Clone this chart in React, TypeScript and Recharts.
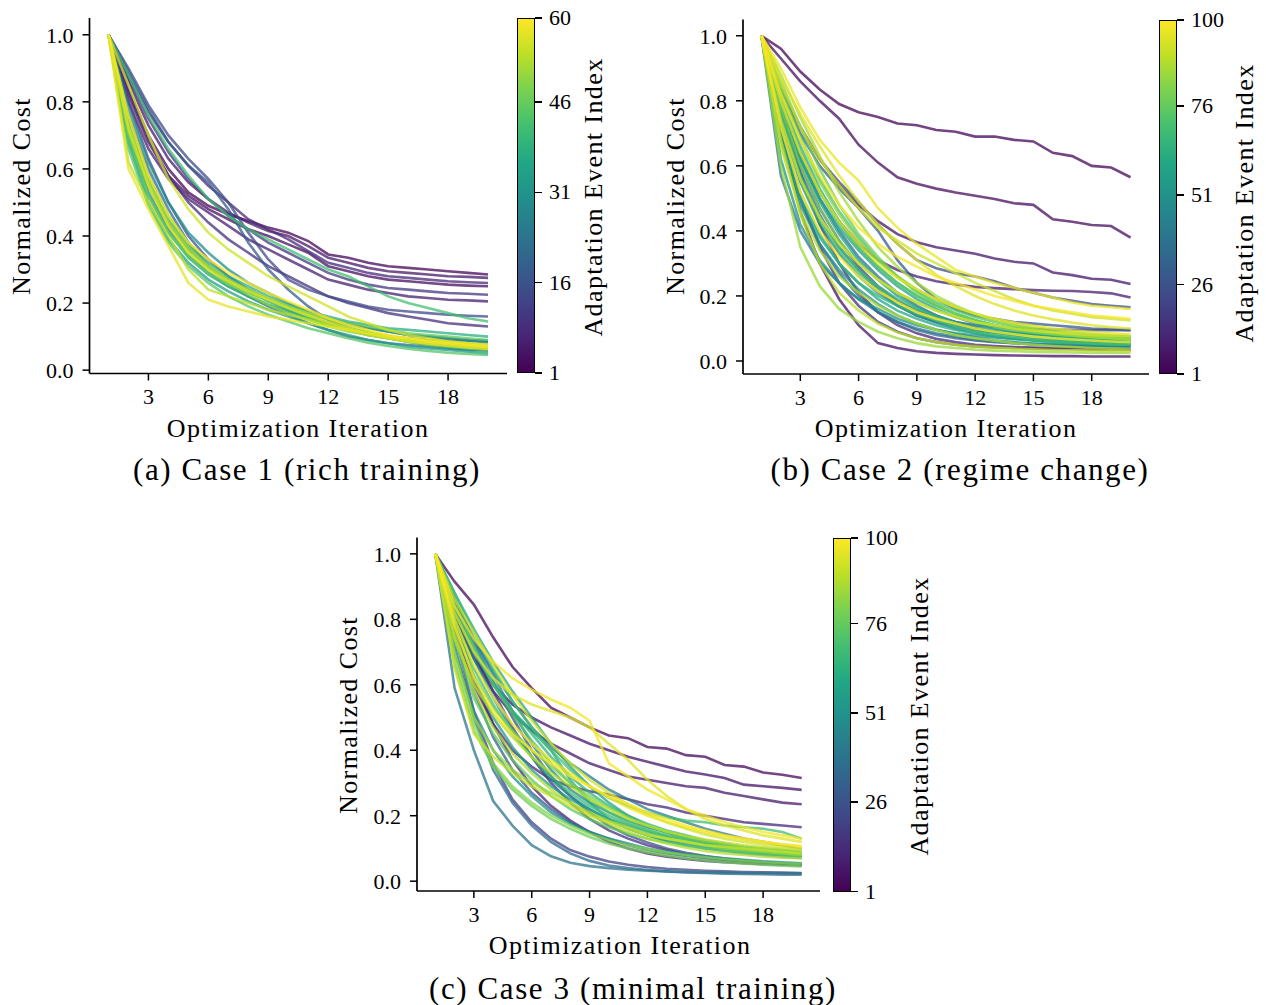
import { LineChart, Line, XAxis, YAxis } from 'recharts'

const FONT = '"Liberation Serif", "DejaVu Serif", serif'

const ITERATIONS = [1, 2, 3, 4, 5, 6, 7, 8, 9, 10, 11, 12, 13, 14, 15, 16, 17, 18, 19, 20]
const X_TICKS = [3, 6, 9, 12, 15, 18]
const Y_TICKS = [0, 0.2, 0.4, 0.6, 0.8, 1.0]

// Case 1 (rich training): 60 adaptation events, a readable subset of curves
const CASE1_EVENTS = [2, 3, 5, 6, 8, 9, 11, 14, 16, 18, 21, 24, 27, 30, 34, 36, 38, 40, 42, 44, 46, 48, 50, 52, 54, 56, 57, 58, 60]
const CASE1_COSTS = [
  [1.0, 0.84, 0.70, 0.60, 0.53, 0.49, 0.465, 0.445, 0.425, 0.41, 0.385, 0.345, 0.335, 0.32, 0.31, 0.305, 0.30, 0.295, 0.29, 0.285],
  [1.0, 0.82, 0.68, 0.58, 0.52, 0.48, 0.45, 0.42, 0.40, 0.375, 0.35, 0.31, 0.295, 0.28, 0.27, 0.265, 0.26, 0.255, 0.252, 0.25],
  [1.0, 0.86, 0.73, 0.63, 0.56, 0.51, 0.47, 0.44, 0.415, 0.40, 0.37, 0.335, 0.32, 0.305, 0.295, 0.29, 0.285, 0.28, 0.278, 0.275],
  [1.0, 0.80, 0.66, 0.57, 0.51, 0.47, 0.43, 0.39, 0.36, 0.33, 0.30, 0.27, 0.255, 0.24, 0.23, 0.22, 0.215, 0.21, 0.208, 0.205],
  [1.0, 0.88, 0.77, 0.68, 0.61, 0.55, 0.50, 0.45, 0.42, 0.39, 0.355, 0.32, 0.305, 0.29, 0.28, 0.275, 0.27, 0.265, 0.262, 0.26],
  [1.0, 0.83, 0.69, 0.58, 0.50, 0.44, 0.39, 0.35, 0.31, 0.28, 0.25, 0.22, 0.20, 0.185, 0.17, 0.16, 0.15, 0.14, 0.135, 0.13],
  [1.0, 0.87, 0.75, 0.65, 0.57, 0.51, 0.46, 0.42, 0.38, 0.35, 0.32, 0.29, 0.27, 0.255, 0.245, 0.24, 0.235, 0.23, 0.228, 0.225],
  [1.0, 0.90, 0.79, 0.70, 0.63, 0.57, 0.50, 0.41, 0.33, 0.27, 0.24, 0.22, 0.205, 0.19, 0.18, 0.175, 0.17, 0.165, 0.162, 0.16],
  [1.0, 0.80, 0.63, 0.50, 0.40, 0.33, 0.28, 0.24, 0.21, 0.185, 0.16, 0.14, 0.122, 0.108, 0.097, 0.088, 0.08, 0.074, 0.07, 0.066],
  [1.0, 0.89, 0.78, 0.68, 0.61, 0.56, 0.48, 0.38, 0.30, 0.24, 0.19, 0.15, 0.125, 0.11, 0.10, 0.095, 0.09, 0.088, 0.086, 0.085],
  [1.0, 0.76, 0.60, 0.48, 0.38, 0.31, 0.26, 0.22, 0.19, 0.165, 0.14, 0.12, 0.10, 0.09, 0.08, 0.075, 0.07, 0.065, 0.06, 0.06],
  [1.0, 0.72, 0.55, 0.44, 0.36, 0.31, 0.27, 0.24, 0.21, 0.19, 0.17, 0.15, 0.135, 0.125, 0.115, 0.105, 0.10, 0.095, 0.09, 0.088],
  [1.0, 0.70, 0.53, 0.42, 0.34, 0.29, 0.25, 0.22, 0.195, 0.175, 0.155, 0.135, 0.12, 0.105, 0.095, 0.085, 0.075, 0.068, 0.062, 0.058],
  [1.0, 0.78, 0.62, 0.50, 0.41, 0.35, 0.30, 0.26, 0.23, 0.20, 0.175, 0.155, 0.14, 0.125, 0.115, 0.105, 0.10, 0.095, 0.09, 0.085],
  [1.0, 0.68, 0.50, 0.39, 0.32, 0.27, 0.235, 0.205, 0.18, 0.16, 0.14, 0.12, 0.105, 0.09, 0.08, 0.07, 0.065, 0.06, 0.055, 0.05],
  [1.0, 0.72, 0.56, 0.45, 0.37, 0.31, 0.27, 0.235, 0.205, 0.18, 0.16, 0.14, 0.125, 0.112, 0.10, 0.092, 0.085, 0.08, 0.076, 0.073],
  [1.0, 0.75, 0.58, 0.46, 0.38, 0.32, 0.28, 0.25, 0.22, 0.195, 0.175, 0.16, 0.145, 0.135, 0.125, 0.12, 0.115, 0.11, 0.105, 0.10],
  [1.0, 0.69, 0.52, 0.41, 0.335, 0.285, 0.25, 0.22, 0.195, 0.175, 0.155, 0.138, 0.124, 0.112, 0.102, 0.094, 0.088, 0.083, 0.079, 0.076],
  [1.0, 0.88, 0.76, 0.66, 0.58, 0.51, 0.46, 0.42, 0.39, 0.36, 0.33, 0.30, 0.28, 0.25, 0.22, 0.20, 0.185, 0.17, 0.155, 0.145],
  [1.0, 0.66, 0.49, 0.38, 0.31, 0.26, 0.22, 0.19, 0.165, 0.145, 0.125, 0.11, 0.095, 0.082, 0.072, 0.064, 0.057, 0.052, 0.048, 0.045],
  [1.0, 0.70, 0.52, 0.41, 0.34, 0.29, 0.255, 0.23, 0.21, 0.19, 0.17, 0.155, 0.14, 0.13, 0.12, 0.11, 0.105, 0.10, 0.095, 0.09],
  [1.0, 0.73, 0.57, 0.45, 0.37, 0.31, 0.27, 0.24, 0.21, 0.185, 0.16, 0.14, 0.12, 0.105, 0.095, 0.085, 0.075, 0.07, 0.065, 0.06],
  [1.0, 0.71, 0.55, 0.43, 0.35, 0.30, 0.26, 0.225, 0.195, 0.17, 0.15, 0.13, 0.115, 0.105, 0.095, 0.088, 0.082, 0.078, 0.075, 0.072],
  [1.0, 0.74, 0.56, 0.44, 0.36, 0.31, 0.27, 0.24, 0.215, 0.19, 0.17, 0.15, 0.13, 0.115, 0.10, 0.09, 0.085, 0.08, 0.075, 0.07],
  [1.0, 0.62, 0.50, 0.40, 0.30, 0.24, 0.22, 0.20, 0.18, 0.165, 0.15, 0.135, 0.12, 0.105, 0.095, 0.085, 0.08, 0.075, 0.07, 0.065],
  [1.0, 0.85, 0.70, 0.57, 0.48, 0.41, 0.36, 0.32, 0.28, 0.25, 0.22, 0.19, 0.16, 0.14, 0.12, 0.105, 0.095, 0.085, 0.08, 0.075],
  [1.0, 0.72, 0.55, 0.43, 0.35, 0.30, 0.265, 0.235, 0.21, 0.185, 0.163, 0.143, 0.125, 0.11, 0.097, 0.087, 0.079, 0.073, 0.068, 0.064],
  [1.0, 0.60, 0.48, 0.37, 0.26, 0.21, 0.19, 0.175, 0.16, 0.15, 0.14, 0.13, 0.12, 0.11, 0.10, 0.095, 0.09, 0.085, 0.08, 0.075],
  [1.0, 0.76, 0.58, 0.46, 0.38, 0.33, 0.29, 0.26, 0.23, 0.205, 0.18, 0.155, 0.135, 0.12, 0.105, 0.095, 0.085, 0.08, 0.075, 0.07],
]
const CASE1_CBAR_TICKS = [1, 16, 31, 46, 60]

// Case 2 (regime change): 100 adaptation events
const CASE2_EVENTS = [2, 4, 5, 7, 9, 12, 15, 20, 25, 29, 33, 35, 38, 40, 45, 48, 50, 55, 58, 60, 62, 65, 68, 70, 72, 75, 78, 80, 82, 85, 86, 88, 90, 92, 94, 95, 96, 97, 99, 100]
const CASE2_COSTS = [
  [1.0, 0.96, 0.89, 0.835, 0.79, 0.765, 0.75, 0.73, 0.725, 0.71, 0.705, 0.69, 0.69, 0.68, 0.675, 0.64, 0.63, 0.60, 0.595, 0.565],
  [1.0, 0.93, 0.86, 0.80, 0.745, 0.665, 0.61, 0.565, 0.545, 0.53, 0.518, 0.508, 0.498, 0.485, 0.48, 0.436, 0.428, 0.418, 0.415, 0.379],
  [1.0, 0.70, 0.46, 0.30, 0.19, 0.11, 0.055, 0.04, 0.03, 0.025, 0.022, 0.02, 0.018, 0.017, 0.016, 0.015, 0.015, 0.014, 0.014, 0.014],
  [1.0, 0.84, 0.72, 0.62, 0.54, 0.48, 0.43, 0.39, 0.365, 0.35, 0.34, 0.33, 0.315, 0.305, 0.30, 0.272, 0.264, 0.253, 0.25, 0.237],
  [1.0, 0.80, 0.64, 0.52, 0.43, 0.36, 0.31, 0.28, 0.26, 0.245, 0.235, 0.228, 0.224, 0.221, 0.218, 0.216, 0.215, 0.212, 0.208, 0.195],
  [1.0, 0.78, 0.58, 0.42, 0.30, 0.21, 0.15, 0.11, 0.085, 0.068, 0.058, 0.05, 0.046, 0.043, 0.041, 0.04, 0.039, 0.038, 0.037, 0.036],
  [1.0, 0.72, 0.50, 0.35, 0.24, 0.17, 0.12, 0.09, 0.07, 0.058, 0.05, 0.045, 0.042, 0.04, 0.038, 0.037, 0.036, 0.035, 0.035, 0.035],
  [1.0, 0.78, 0.60, 0.47, 0.37, 0.29, 0.23, 0.185, 0.155, 0.135, 0.12, 0.11, 0.105, 0.10, 0.098, 0.097, 0.096, 0.095, 0.095, 0.095],
  [1.0, 0.84, 0.72, 0.62, 0.55, 0.49, 0.42, 0.36, 0.31, 0.285, 0.27, 0.26, 0.245, 0.225, 0.21, 0.195, 0.185, 0.175, 0.17, 0.165],
  [1.0, 0.82, 0.70, 0.60, 0.53, 0.47, 0.40, 0.31, 0.24, 0.19, 0.16, 0.14, 0.13, 0.12, 0.115, 0.11, 0.105, 0.10, 0.098, 0.095],
  [1.0, 0.70, 0.50, 0.36, 0.27, 0.20, 0.15, 0.12, 0.095, 0.08, 0.07, 0.063, 0.058, 0.055, 0.052, 0.05, 0.049, 0.048, 0.047, 0.046],
  [1.0, 0.76, 0.58, 0.45, 0.35, 0.28, 0.22, 0.17, 0.14, 0.12, 0.105, 0.095, 0.088, 0.084, 0.082, 0.08, 0.079, 0.078, 0.077, 0.076],
  [1.0, 0.80, 0.63, 0.50, 0.40, 0.32, 0.26, 0.21, 0.17, 0.14, 0.118, 0.10, 0.088, 0.079, 0.072, 0.067, 0.063, 0.06, 0.058, 0.056],
  [1.0, 0.57, 0.40, 0.30, 0.24, 0.19, 0.15, 0.12, 0.10, 0.085, 0.075, 0.065, 0.06, 0.055, 0.05, 0.048, 0.046, 0.045, 0.044, 0.043],
  [1.0, 0.74, 0.55, 0.42, 0.33, 0.26, 0.21, 0.17, 0.14, 0.118, 0.10, 0.088, 0.078, 0.07, 0.064, 0.06, 0.057, 0.055, 0.053, 0.052],
  [1.0, 0.68, 0.48, 0.36, 0.28, 0.22, 0.175, 0.14, 0.115, 0.097, 0.083, 0.072, 0.064, 0.058, 0.054, 0.051, 0.049, 0.047, 0.046, 0.045],
  [1.0, 0.62, 0.42, 0.31, 0.24, 0.19, 0.16, 0.13, 0.11, 0.095, 0.085, 0.078, 0.072, 0.068, 0.065, 0.062, 0.06, 0.058, 0.057, 0.056],
  [1.0, 0.80, 0.62, 0.49, 0.39, 0.31, 0.25, 0.20, 0.165, 0.14, 0.12, 0.105, 0.095, 0.088, 0.082, 0.078, 0.075, 0.072, 0.07, 0.068],
  [1.0, 0.78, 0.62, 0.50, 0.41, 0.34, 0.28, 0.23, 0.19, 0.16, 0.135, 0.115, 0.10, 0.09, 0.082, 0.076, 0.071, 0.067, 0.064, 0.062],
  [1.0, 0.70, 0.50, 0.38, 0.30, 0.24, 0.19, 0.155, 0.13, 0.11, 0.095, 0.085, 0.075, 0.068, 0.062, 0.058, 0.055, 0.052, 0.05, 0.05],
  [1.0, 0.82, 0.66, 0.53, 0.43, 0.35, 0.29, 0.24, 0.20, 0.17, 0.145, 0.125, 0.11, 0.098, 0.088, 0.08, 0.074, 0.07, 0.066, 0.063],
  [1.0, 0.72, 0.52, 0.39, 0.30, 0.24, 0.20, 0.17, 0.145, 0.125, 0.11, 0.10, 0.09, 0.082, 0.075, 0.07, 0.066, 0.063, 0.06, 0.058],
  [1.0, 0.76, 0.57, 0.44, 0.35, 0.28, 0.23, 0.19, 0.16, 0.135, 0.115, 0.10, 0.088, 0.079, 0.072, 0.066, 0.062, 0.058, 0.055, 0.053],
  [1.0, 0.75, 0.56, 0.43, 0.34, 0.27, 0.22, 0.18, 0.15, 0.125, 0.105, 0.09, 0.08, 0.072, 0.065, 0.06, 0.057, 0.054, 0.052, 0.05],
  [1.0, 0.84, 0.69, 0.56, 0.46, 0.38, 0.31, 0.26, 0.215, 0.18, 0.155, 0.135, 0.12, 0.107, 0.097, 0.089, 0.083, 0.078, 0.074, 0.071],
  [1.0, 0.80, 0.64, 0.52, 0.42, 0.35, 0.29, 0.24, 0.20, 0.17, 0.145, 0.125, 0.11, 0.10, 0.09, 0.083, 0.078, 0.074, 0.07, 0.068],
  [1.0, 0.86, 0.72, 0.59, 0.48, 0.39, 0.32, 0.26, 0.21, 0.175, 0.145, 0.125, 0.11, 0.098, 0.089, 0.082, 0.077, 0.073, 0.07, 0.067],
  [1.0, 0.78, 0.60, 0.47, 0.37, 0.30, 0.25, 0.21, 0.18, 0.155, 0.135, 0.12, 0.105, 0.095, 0.088, 0.082, 0.078, 0.075, 0.072, 0.07],
  [1.0, 0.83, 0.68, 0.55, 0.45, 0.37, 0.31, 0.26, 0.22, 0.19, 0.165, 0.145, 0.128, 0.115, 0.104, 0.095, 0.088, 0.083, 0.079, 0.076],
  [1.0, 0.60, 0.35, 0.23, 0.16, 0.12, 0.09, 0.07, 0.055, 0.045, 0.04, 0.035, 0.032, 0.03, 0.028, 0.027, 0.026, 0.025, 0.025, 0.025],
  [1.0, 0.88, 0.75, 0.63, 0.52, 0.43, 0.35, 0.29, 0.24, 0.20, 0.17, 0.145, 0.125, 0.11, 0.098, 0.088, 0.08, 0.074, 0.07, 0.066],
  [1.0, 0.66, 0.46, 0.34, 0.26, 0.21, 0.17, 0.14, 0.115, 0.095, 0.08, 0.07, 0.062, 0.055, 0.05, 0.046, 0.043, 0.04, 0.038, 0.037],
  [1.0, 0.68, 0.45, 0.30, 0.21, 0.155, 0.115, 0.088, 0.07, 0.058, 0.05, 0.045, 0.041, 0.038, 0.036, 0.034, 0.033, 0.032, 0.031, 0.03],
  [1.0, 0.85, 0.72, 0.62, 0.54, 0.47, 0.41, 0.37, 0.33, 0.30, 0.27, 0.24, 0.215, 0.19, 0.17, 0.155, 0.145, 0.135, 0.13, 0.125],
  [1.0, 0.74, 0.56, 0.44, 0.36, 0.30, 0.25, 0.21, 0.18, 0.155, 0.135, 0.12, 0.11, 0.10, 0.093, 0.088, 0.084, 0.08, 0.078, 0.076],
  [1.0, 0.87, 0.76, 0.66, 0.57, 0.49, 0.42, 0.36, 0.31, 0.265, 0.23, 0.20, 0.175, 0.155, 0.14, 0.128, 0.118, 0.11, 0.104, 0.10],
  [1.0, 0.80, 0.64, 0.52, 0.43, 0.36, 0.30, 0.255, 0.22, 0.19, 0.165, 0.145, 0.13, 0.118, 0.108, 0.10, 0.094, 0.089, 0.085, 0.082],
  [1.0, 0.90, 0.78, 0.68, 0.61, 0.555, 0.47, 0.41, 0.36, 0.32, 0.28, 0.26, 0.24, 0.225, 0.21, 0.195, 0.18, 0.17, 0.165, 0.16],
  [1.0, 0.82, 0.68, 0.57, 0.48, 0.41, 0.36, 0.32, 0.29, 0.26, 0.24, 0.22, 0.20, 0.185, 0.17, 0.16, 0.15, 0.14, 0.135, 0.13],
  [1.0, 0.72, 0.52, 0.40, 0.32, 0.26, 0.215, 0.18, 0.15, 0.13, 0.115, 0.10, 0.09, 0.082, 0.075, 0.07, 0.066, 0.063, 0.06, 0.058],
]
const CASE2_CBAR_TICKS = [1, 26, 51, 76, 100]

// Case 3 (minimal training): 100 adaptation events
const CASE3_EVENTS = [3, 6, 8, 10, 12, 15, 20, 25, 30, 35, 40, 42, 45, 48, 50, 55, 58, 60, 65, 68, 70, 72, 75, 78, 80, 82, 85, 88, 90, 92, 93, 95, 97, 98, 100]
const CASE3_COSTS = [
  [1.0, 0.915, 0.845, 0.745, 0.655, 0.59, 0.53, 0.50, 0.47, 0.445, 0.437, 0.41, 0.405, 0.385, 0.38, 0.355, 0.35, 0.332, 0.325, 0.315],
  [1.0, 0.80, 0.68, 0.60, 0.54, 0.50, 0.47, 0.445, 0.42, 0.40, 0.38, 0.365, 0.35, 0.335, 0.326, 0.315, 0.295, 0.29, 0.285, 0.279],
  [1.0, 0.82, 0.68, 0.58, 0.51, 0.46, 0.42, 0.39, 0.36, 0.34, 0.32, 0.31, 0.30, 0.29, 0.285, 0.27, 0.26, 0.25, 0.24, 0.235],
  [1.0, 0.80, 0.62, 0.48, 0.37, 0.29, 0.23, 0.185, 0.15, 0.12, 0.10, 0.085, 0.075, 0.068, 0.062, 0.058, 0.055, 0.052, 0.05, 0.048],
  [1.0, 0.78, 0.60, 0.48, 0.40, 0.35, 0.31, 0.29, 0.275, 0.265, 0.25, 0.235, 0.225, 0.21, 0.20, 0.19, 0.18, 0.175, 0.17, 0.165],
  [1.0, 0.84, 0.70, 0.58, 0.47, 0.38, 0.30, 0.24, 0.19, 0.155, 0.13, 0.11, 0.095, 0.083, 0.074, 0.067, 0.062, 0.058, 0.055, 0.052],
  [1.0, 0.76, 0.52, 0.36, 0.25, 0.18, 0.13, 0.095, 0.075, 0.06, 0.05, 0.043, 0.038, 0.035, 0.032, 0.03, 0.028, 0.027, 0.026, 0.025],
  [1.0, 0.86, 0.73, 0.61, 0.50, 0.40, 0.32, 0.26, 0.21, 0.17, 0.14, 0.118, 0.10, 0.087, 0.077, 0.069, 0.063, 0.058, 0.054, 0.05],
  [1.0, 0.78, 0.58, 0.44, 0.34, 0.27, 0.22, 0.18, 0.15, 0.13, 0.11, 0.095, 0.085, 0.077, 0.07, 0.065, 0.06, 0.056, 0.053, 0.05],
  [1.0, 0.72, 0.50, 0.34, 0.24, 0.17, 0.12, 0.085, 0.062, 0.048, 0.04, 0.034, 0.03, 0.027, 0.025, 0.023, 0.022, 0.021, 0.02, 0.02],
  [1.0, 0.59, 0.40, 0.245, 0.17, 0.11, 0.076, 0.056, 0.046, 0.04, 0.035, 0.032, 0.03, 0.028, 0.027, 0.026, 0.025, 0.025, 0.024, 0.024],
  [1.0, 0.86, 0.74, 0.64, 0.55, 0.47, 0.41, 0.36, 0.32, 0.28, 0.25, 0.22, 0.20, 0.18, 0.16, 0.145, 0.13, 0.12, 0.11, 0.10],
  [1.0, 0.86, 0.74, 0.63, 0.52, 0.42, 0.34, 0.28, 0.24, 0.21, 0.185, 0.165, 0.15, 0.135, 0.122, 0.11, 0.10, 0.092, 0.085, 0.078],
  [1.0, 0.82, 0.68, 0.56, 0.46, 0.38, 0.31, 0.26, 0.22, 0.185, 0.16, 0.14, 0.123, 0.11, 0.10, 0.092, 0.085, 0.08, 0.075, 0.071],
  [1.0, 0.70, 0.52, 0.40, 0.32, 0.26, 0.21, 0.175, 0.15, 0.13, 0.115, 0.10, 0.09, 0.082, 0.075, 0.07, 0.065, 0.061, 0.058, 0.055],
  [1.0, 0.80, 0.62, 0.50, 0.41, 0.34, 0.29, 0.25, 0.22, 0.19, 0.17, 0.15, 0.135, 0.12, 0.11, 0.10, 0.092, 0.085, 0.08, 0.075],
  [1.0, 0.88, 0.77, 0.67, 0.58, 0.50, 0.42, 0.35, 0.29, 0.24, 0.20, 0.17, 0.148, 0.13, 0.116, 0.105, 0.096, 0.089, 0.083, 0.078],
  [1.0, 0.83, 0.70, 0.60, 0.52, 0.46, 0.40, 0.31, 0.24, 0.19, 0.16, 0.14, 0.125, 0.115, 0.105, 0.098, 0.092, 0.087, 0.083, 0.08],
  [1.0, 0.85, 0.72, 0.61, 0.52, 0.45, 0.38, 0.32, 0.27, 0.23, 0.20, 0.175, 0.155, 0.14, 0.125, 0.115, 0.105, 0.10, 0.095, 0.09],
  [1.0, 0.80, 0.65, 0.54, 0.45, 0.38, 0.32, 0.27, 0.23, 0.20, 0.175, 0.155, 0.138, 0.124, 0.113, 0.104, 0.097, 0.091, 0.086, 0.082],
  [1.0, 0.88, 0.76, 0.65, 0.55, 0.47, 0.40, 0.34, 0.29, 0.255, 0.23, 0.21, 0.195, 0.185, 0.18, 0.17, 0.165, 0.16, 0.15, 0.13],
  [1.0, 0.84, 0.71, 0.60, 0.51, 0.43, 0.36, 0.30, 0.25, 0.21, 0.18, 0.158, 0.14, 0.126, 0.114, 0.105, 0.098, 0.092, 0.087, 0.083],
  [1.0, 0.74, 0.56, 0.45, 0.37, 0.31, 0.26, 0.22, 0.19, 0.165, 0.145, 0.13, 0.118, 0.108, 0.10, 0.094, 0.088, 0.084, 0.08, 0.077],
  [1.0, 0.66, 0.46, 0.35, 0.28, 0.23, 0.19, 0.16, 0.135, 0.115, 0.10, 0.088, 0.078, 0.07, 0.063, 0.058, 0.054, 0.05, 0.047, 0.045],
  [1.0, 0.78, 0.63, 0.53, 0.46, 0.40, 0.35, 0.30, 0.26, 0.225, 0.195, 0.17, 0.15, 0.135, 0.122, 0.112, 0.104, 0.097, 0.092, 0.088],
  [1.0, 0.68, 0.48, 0.36, 0.29, 0.24, 0.20, 0.17, 0.145, 0.125, 0.11, 0.098, 0.088, 0.08, 0.073, 0.067, 0.062, 0.058, 0.055, 0.052],
  [1.0, 0.70, 0.50, 0.40, 0.34, 0.30, 0.27, 0.24, 0.21, 0.185, 0.165, 0.145, 0.13, 0.12, 0.11, 0.10, 0.095, 0.09, 0.085, 0.08],
  [1.0, 0.76, 0.58, 0.47, 0.39, 0.33, 0.28, 0.24, 0.205, 0.175, 0.15, 0.13, 0.115, 0.102, 0.092, 0.085, 0.08, 0.075, 0.072, 0.07],
  [1.0, 0.74, 0.60, 0.51, 0.44, 0.38, 0.33, 0.29, 0.25, 0.22, 0.19, 0.17, 0.152, 0.138, 0.127, 0.118, 0.11, 0.104, 0.099, 0.095],
  [1.0, 0.65, 0.45, 0.38, 0.33, 0.29, 0.26, 0.23, 0.20, 0.18, 0.16, 0.14, 0.13, 0.12, 0.11, 0.105, 0.10, 0.095, 0.09, 0.085],
  [1.0, 0.86, 0.76, 0.66, 0.57, 0.49, 0.42, 0.36, 0.31, 0.27, 0.235, 0.205, 0.18, 0.16, 0.143, 0.13, 0.12, 0.112, 0.105, 0.10],
  [1.0, 0.82, 0.70, 0.62, 0.57, 0.54, 0.52, 0.50, 0.47, 0.42, 0.37, 0.31, 0.26, 0.22, 0.19, 0.17, 0.155, 0.14, 0.13, 0.12],
  [1.0, 0.80, 0.66, 0.56, 0.48, 0.42, 0.37, 0.33, 0.29, 0.255, 0.225, 0.20, 0.18, 0.163, 0.15, 0.138, 0.128, 0.12, 0.113, 0.107],
  [1.0, 0.84, 0.74, 0.67, 0.62, 0.585, 0.555, 0.53, 0.49, 0.36, 0.32, 0.28, 0.25, 0.22, 0.20, 0.18, 0.165, 0.15, 0.14, 0.13],
  [1.0, 0.78, 0.62, 0.52, 0.45, 0.40, 0.36, 0.32, 0.29, 0.26, 0.235, 0.21, 0.19, 0.17, 0.155, 0.14, 0.13, 0.12, 0.112, 0.105],
]
const CASE3_CBAR_TICKS = [1, 26, 51, 76, 100]

const VIRIDIS = ['#440154', '#482475', '#414487', '#355f8d', '#2a788e', '#21918c', '#22a884', '#44bf70', '#7ad151', '#bddf26', '#fde725']

function viridis(t: number) {
  const x = Math.min(1, Math.max(0, t)) * (VIRIDIS.length - 1)
  const i = Math.min(VIRIDIS.length - 2, Math.floor(x))
  const f = x - i
  const a = VIRIDIS[i]
  const b = VIRIDIS[i + 1]
  const ch = (h: string, k: number) => parseInt(h.slice(1 + 2 * k, 3 + 2 * k), 16)
  const mix = (k: number) => Math.round(ch(a, k) + (ch(b, k) - ch(a, k)) * f)
  return `rgb(${mix(0)}, ${mix(1)}, ${mix(2)})`
}

interface TextAtProps {
  x: number
  y: number
  size: number
  spacing?: number
  rotate?: boolean
  children: string
}

function TextAt({ x, y, size, spacing = 0, rotate = false, children }: TextAtProps) {
  return (
    <div
      style={{
        position: 'absolute',
        left: x,
        top: y,
        transform: `translate(-50%, -50%)${rotate ? ' rotate(-90deg)' : ''}`,
        fontFamily: FONT,
        fontSize: size,
        letterSpacing: spacing,
        whiteSpace: 'nowrap',
        color: '#000',
        lineHeight: 1,
      }}
    >
      {children}
    </div>
  )
}

interface ColorbarProps {
  left: number
  top: number
  height: number
  ticks: number[]
  maxEvent: number
}

function Colorbar({ left, top, height, ticks, maxEvent }: ColorbarProps) {
  const grad = VIRIDIS.map((c, i) => `${c} ${(i / (VIRIDIS.length - 1)) * 100}%`).join(', ')
  const w = 18
  return (
    <div style={{ position: 'absolute', left, top, width: w, height }}>
      <div
        style={{
          position: 'absolute',
          inset: 0,
          background: `linear-gradient(to top, ${grad})`,
          border: '1.3px solid #000',
          boxSizing: 'border-box',
        }}
      />
      {ticks.map((t) => {
        const y = height - ((t - 1) / (maxEvent - 1)) * height
        return (
          <div key={t}>
            <div style={{ position: 'absolute', left: w, top: y - 0.75, width: 7, height: 1.5, background: '#000' }} />
            <div
              style={{
                position: 'absolute',
                left: w + 14,
                top: y,
                transform: 'translateY(-50%)',
                fontFamily: FONT,
                fontSize: 22,
                lineHeight: 1,
              }}
            >
              {t}
            </div>
          </div>
        )
      })}
    </div>
  )
}

interface PanelProps {
  events: number[]
  costs: number[][]
  maxEvent: number
  yDomain: [number, number]
  left: number
  top: number
  width: number
  height: number
  plotTop: number
  plotBottom: number
  plotLeft: number
  plotRight: number
}

function CostPanel({ events, costs, maxEvent, yDomain, left, top, width, height, plotTop, plotBottom, plotLeft, plotRight }: PanelProps) {
  const rows = ITERATIONS.map((iteration, i) => {
    const row: Record<string, number> = { iteration }
    costs.forEach((c, j) => {
      row[`e${events[j]}`] = c[i]
    })
    return row
  })
  const tickStyle = { fill: '#000', fontSize: 22, fontFamily: FONT }
  const axisLine = { stroke: '#000', strokeWidth: 1.7 }
  const tickLine = { stroke: '#000', strokeWidth: 1.5 }
  return (
    <div style={{ position: 'absolute', left, top, width, height }}>
      <LineChart
        width={width}
        height={height}
        data={rows}
        margin={{ top: plotTop, right: width - plotRight, bottom: 0, left: 0 }}
      >
        <XAxis
          type="number"
          dataKey="iteration"
          domain={[0.05, 20.95]}
          ticks={X_TICKS}
          interval={0}
          allowDataOverflow
          height={height - plotBottom}
          tickSize={7}
          tickMargin={8}
          axisLine={axisLine}
          tickLine={tickLine}
          tick={tickStyle}
        />
        <YAxis
          type="number"
          domain={yDomain}
          ticks={Y_TICKS}
          interval={0}
          allowDataOverflow
          width={plotLeft}
          tickSize={7}
          tickMargin={9}
          tickFormatter={(v: number) => v.toFixed(1)}
          axisLine={axisLine}
          tickLine={tickLine}
          tick={tickStyle}
        />
        {events.map((ev) => (
          <Line
            key={ev}
            type="linear"
            dataKey={`e${ev}`}
            stroke={viridis((ev - 1) / (maxEvent - 1))}
            strokeOpacity={0.75}
            strokeWidth={2.6}
            dot={false}
            activeDot={false}
            isAnimationActive={false}
          />
        ))}
      </LineChart>
    </div>
  )
}

export default function App() {
  return (
    <div style={{ position: 'absolute', left: 0, top: 0, width: 1266, height: 1005, background: '#fff' }}>
      <CostPanel
        events={CASE1_EVENTS}
        costs={CASE1_COSTS}
        maxEvent={60}
        yDomain={[-0.01, 1.05]}
        left={0}
        top={0}
        width={520}
        height={440}
        plotTop={18}
        plotBottom={373.5}
        plotLeft={89.5}
        plotRight={507}
      />
      <Colorbar left={517} top={18} height={355} ticks={CASE1_CBAR_TICKS} maxEvent={60} />
      <TextAt x={22} y={196} size={26} spacing={1.4} rotate>Normalized Cost</TextAt>
      <TextAt x={298} y={429} size={26} spacing={1.4}>Optimization Iteration</TextAt>
      <TextAt x={594} y={197} size={26} spacing={1.4} rotate>Adaptation Event Index</TextAt>
      <TextAt x={307} y={469} size={31} spacing={1.6}>(a) Case 1 (rich training)</TextAt>

      <CostPanel
        events={CASE2_EVENTS}
        costs={CASE2_COSTS}
        maxEvent={100}
        yDomain={[-0.04, 1.05]}
        left={650}
        top={0}
        width={510}
        height={440}
        plotTop={19.5}
        plotBottom={374}
        plotLeft={93}
        plotRight={499}
      />
      <Colorbar left={1159} top={20} height={354} ticks={CASE2_CBAR_TICKS} maxEvent={100} />
      <TextAt x={676} y={196} size={26} spacing={1.4} rotate>Normalized Cost</TextAt>
      <TextAt x={946} y={429} size={26} spacing={1.4}>Optimization Iteration</TextAt>
      <TextAt x={1245} y={203} size={26} spacing={1.4} rotate>Adaptation Event Index</TextAt>
      <TextAt x={960} y={469} size={31} spacing={1.6}>(b) Case 2 (regime change)</TextAt>

      <CostPanel
        events={CASE3_EVENTS}
        costs={CASE3_COSTS}
        maxEvent={100}
        yDomain={[-0.03, 1.05]}
        left={325}
        top={500}
        width={510}
        height={440}
        plotTop={37.5}
        plotBottom={391}
        plotLeft={92}
        plotRight={495}
      />
      <Colorbar left={833} top={538} height={353.5} ticks={CASE3_CBAR_TICKS} maxEvent={100} />
      <TextAt x={349} y={715} size={26} spacing={1.4} rotate>Normalized Cost</TextAt>
      <TextAt x={620} y={946} size={26} spacing={1.4}>Optimization Iteration</TextAt>
      <TextAt x={920} y={716} size={26} spacing={1.4} rotate>Adaptation Event Index</TextAt>
      <TextAt x={633} y={988} size={31} spacing={1.6}>(c) Case 3 (minimal training)</TextAt>
    </div>
  )
}
